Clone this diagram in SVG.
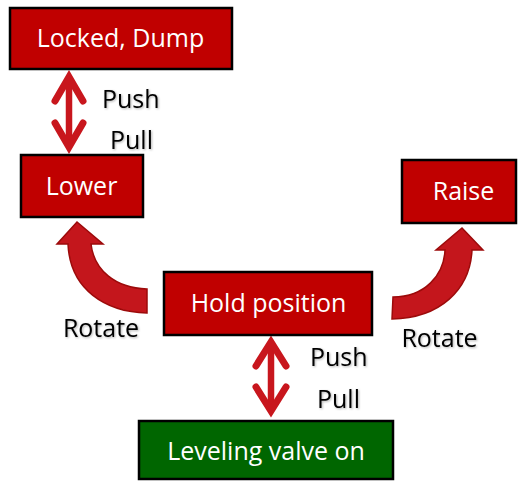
<svg xmlns="http://www.w3.org/2000/svg" width="518" height="481" viewBox="0 0 518 481">
<defs>
<style>
.box{fill:#C00000;stroke:#000;stroke-width:2.5}
.green{fill:#006600;stroke:#000;stroke-width:2.5}
.t{font-family:"Open Sans","Liberation Sans",sans-serif;font-size:25px;fill:#fff;text-anchor:middle}
.lbl{font-family:"Open Sans","Liberation Sans",sans-serif;font-size:25px;fill:#000}
.curve{fill:#C4161C;stroke:#9C0A0A;stroke-width:1.5;stroke-linejoin:miter}
.shaft{stroke:#C8161D;stroke-width:6.5;fill:none}
.head{stroke:#C8161D;stroke-width:7;fill:none;stroke-linecap:round;stroke-linejoin:miter;stroke-miterlimit:10}
</style>
<filter id="sh" x="-10%" y="-20%" width="130%" height="150%">
<feDropShadow dx="1" dy="1" stdDeviation="0.8" flood-color="#000" flood-opacity="0.3"/>
</filter>
</defs>
<rect width="518" height="481" fill="#fff"/>
<g id="connectors">
<g id="c-locked-lower">
<line class="shaft" x1="69" y1="80" x2="69" y2="146"/>
<path class="head" d="M55,101 L69,77 L83,101"/>
<path class="head" d="M55,123 L69,147 L83,123"/>
</g>
<g id="c-hold-level">
<line class="shaft" x1="271" y1="345" x2="271" y2="410"/>
<path class="head" d="M256,366 L271,342 L286,366"/>
<path class="head" d="M256,387 L271,411 L286,387"/>
</g>
<path id="c-hold-lower" class="curve" d="M147,313 C106,312 70,290 68,244 L57,244 L77,222 L103,244 L91,244 C94,270 115,288 147,289 Z"/>
<path id="c-hold-raise" class="curve" d="M392,319 C440,318 470,290 472,250 L483,250 L462,228 L436,250 L445,250 C444,275 425,297 393,297 Z"/>
</g>
<g id="labels" filter="url(#sh)">
<text class="lbl" x="102" y="108">Push</text>
<text class="lbl" x="110" y="149">Pull</text>
<text class="lbl" x="101" y="337" text-anchor="middle">Rotate</text>
<text class="lbl" x="439.5" y="347" text-anchor="middle">Rotate</text>
<text class="lbl" x="310" y="366">Push</text>
<text class="lbl" x="317" y="408">Pull</text>
</g>
<g id="locked">
<rect class="box" x="10" y="8" width="222" height="61"/>
<text class="t" x="120.5" y="47">Locked, Dump</text>
</g>
<g id="lower">
<rect class="box" x="21" y="155" width="122" height="62"/>
<text class="t" x="81.5" y="195">Lower</text>
</g>
<g id="raise">
<rect class="box" x="402" y="160" width="114" height="63"/>
<text class="t" x="463.5" y="200">Raise</text>
</g>
<g id="hold">
<rect class="box" x="164" y="272" width="208" height="63"/>
<text class="t" x="268.5" y="312">Hold position</text>
</g>
<g id="leveling">
<rect class="green" x="139" y="421" width="254" height="58"/>
<text class="t" x="266" y="460">Leveling valve on</text>
</g>
</svg>
